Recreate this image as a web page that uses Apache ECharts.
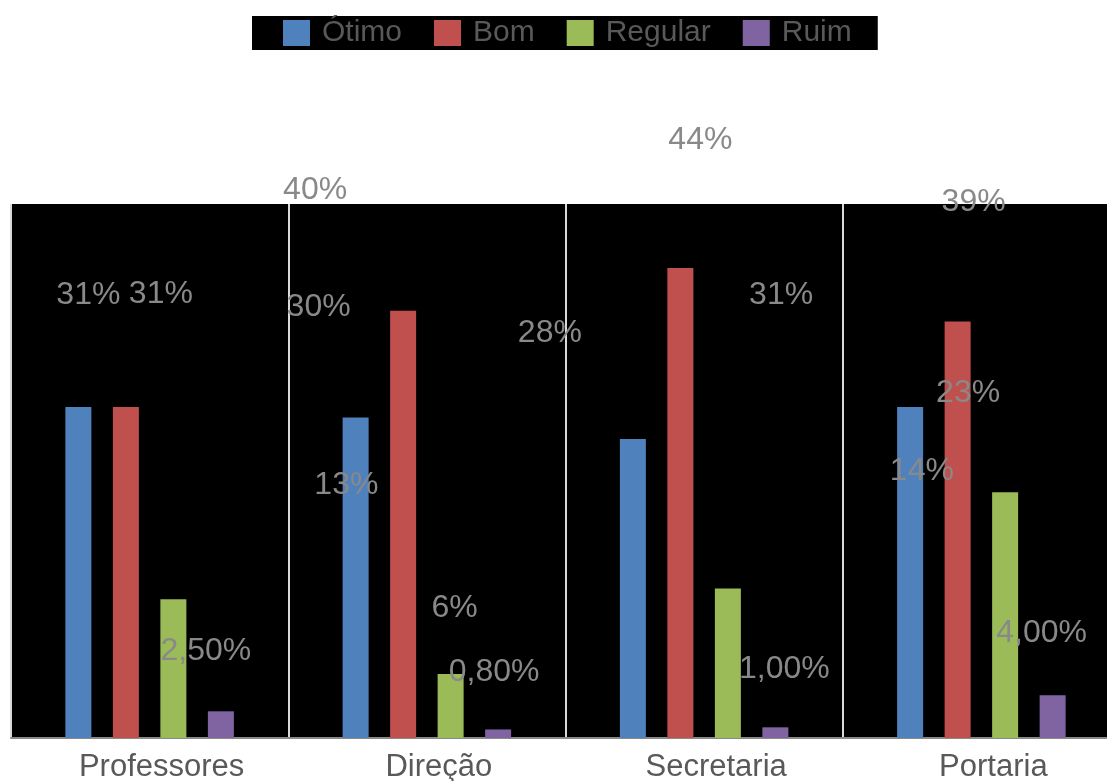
<!DOCTYPE html>
<html>
<head>
<meta charset="utf-8">
<script src="https://cdn.jsdelivr.net/npm/echarts@6/dist/echarts.min.js"></script>
<style>
  html, body { margin: 0; padding: 0; background: #ffffff; }
  #chart { width: 1107px; height: 781px; }
</style>
</head>
<body>
<div id="chart"></div>
<script>
// Categories and survey results (percent)
const categories = ['Professores', 'Direção', 'Secretaria', 'Portaria'];
const seriesNames = ['Ótimo', 'Bom', 'Regular', 'Ruim'];
const otimo   = [31, 30, 28, 31];
const bom     = [31, 40, 44, 39];
const regular = [13, 6, 14, 23];
const ruim    = [2.5, 0.8, 1.0, 4.0];

const colors = ['#4F81BD', '#C0504D', '#9BBB59', '#8064A2'];

// Manual label placement: [dx, dy] from the top-centre of each bar
const labelNudge = [
  [[10, -112], [-37, -110], [-83, -106], [-129, -112]],
  [[35, -113], [-88, -121], [20, -128], [16, -119]],
  [[173, -114], [4, -66], [194, -117], [-37, -99]],
  [[-15, -60], [-4, -57], [9, -58], [-11, -62]]
];

const FONT = '"Liberation Sans", Arial, sans-serif';

const values = [otimo, bom, regular, ruim];

function fmt(seriesIdx, v) {
  if (seriesIdx === 3) return v.toFixed(2).replace('.', ',') + '%';
  return v + '%';
}

const series = values.map((arr, si) => ({
  name: seriesNames[si],
  type: 'bar',
  barWidth: 26,
  barGap: '82.7%',
  itemStyle: { color: colors[si] },
  z: 2,
  data: arr.map((v, ci) => ({
    value: v,
    label: {
      show: true,
      position: 'top',
      distance: 0,
      align: 'center',
      verticalAlign: 'middle',
      offset: labelNudge[si][ci],
      formatter: () => fmt(si, v),
      color: '#898989',
      fontFamily: FONT,
      fontSize: 32
    }
  }))
}));

const chart = echarts.init(document.getElementById('chart'), null, { renderer: 'canvas' });
chart.setOption({
  animation: false,
  backgroundColor: '#ffffff',
  legend: {
    data: seriesNames,
    top: 16,
    left: 252,
    backgroundColor: '#000000',
    padding: [2, 26, 2, 31],
    itemWidth: 27,
    itemHeight: 26,
    itemGap: 32,
    icon: 'rect',
    textStyle: {
      color: '#595959',
      fontFamily: FONT,
      fontSize: 30,
      lineHeight: 30,
      padding: [0, 0, 0, 7]
    }
  },
  grid: {
    left: 11,
    top: 204,
    width: 1109,
    height: 534,
    outerBoundsMode: 'none',
    show: true,
    backgroundColor: '#000000',
    borderWidth: 0,
    containLabel: false
  },
  xAxis: {
    type: 'category',
    data: categories,
    axisTick: { show: false },
    axisLine: { show: true, lineStyle: { color: '#898989', width: 2 } },
    axisLabel: {
      color: '#595959',
      fontFamily: FONT,
      fontSize: 31,
      margin: 14,
      padding: [0, 0, 0, 24]
    },
    splitLine: { show: true, lineStyle: { color: '#d9d9d9', width: 2 } }
  },
  yAxis: {
    type: 'value',
    min: 0,
    max: 50,
    axisLabel: { show: false },
    axisTick: { show: false },
    axisLine: { show: false },
    splitLine: { show: false }
  },
  series: series
});
</script>
</body>
</html>
